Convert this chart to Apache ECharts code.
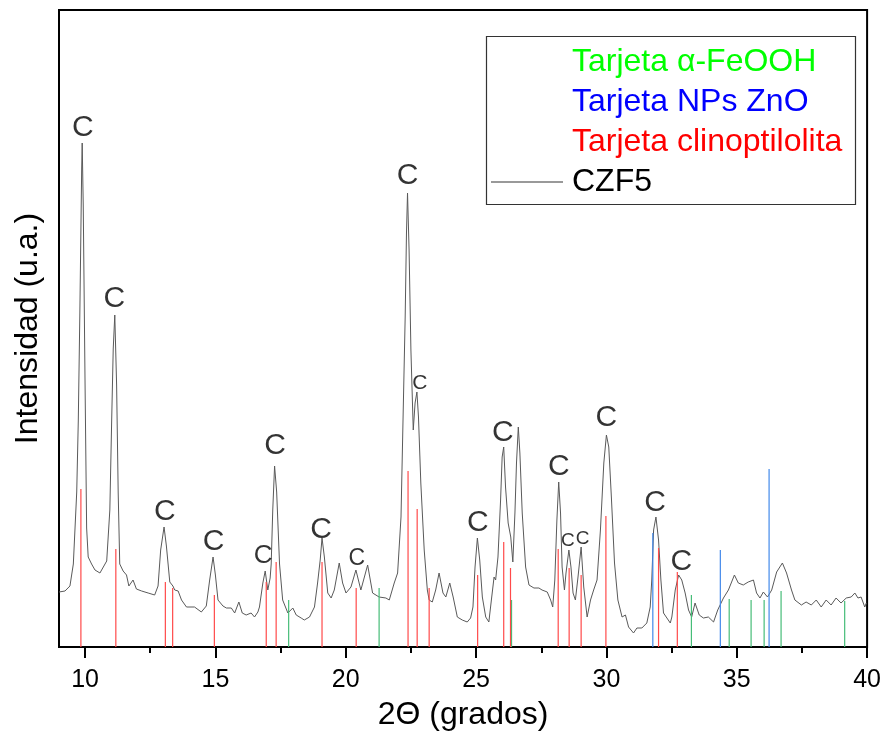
<!DOCTYPE html>
<html>
<head>
<meta charset="utf-8">
<title>DRX CZF5</title>
<script src="https://cdn.jsdelivr.net/npm/echarts@6/dist/echarts.min.js"></script>
<style>
  html, body { margin: 0; padding: 0; background: #fff; }
  #chart { width: 884px; height: 737px; }
</style>
</head>
<body>
<div id="chart"></div>
<script>
// Difractograma de la muestra CZF5: [2θ (grados), intensidad (u.a.)]
const czf5 = [
  [9.00,55],[9.23,56],[9.42,61],[9.55,83],[9.68,155],[9.74,226],[9.80,334],[9.87,478],[9.89,504],[9.93,442],
  [10.00,262],[10.06,119],[10.12,90],[10.25,83],[10.38,77],[10.57,74],[10.63,72],[10.83,86],[10.95,137],[11.02,226],
  [11.08,298],[11.14,332],[11.21,262],[11.27,155],[11.33,83],[11.46,76],[11.59,72],[11.68,61],[11.84,67],[11.97,58],
  [12.17,56],[12.42,54],[12.67,52],[12.80,61],[12.90,97],[13.03,120],[13.12,101],[13.25,65],[13.37,61],[13.44,57],
  [13.57,56],[13.70,47],[13.89,40],[14.20,40],[14.46,35],[14.65,41],[14.78,67],[14.91,90],[15.00,72],[15.10,47],
  [15.29,41],[15.42,39],[15.61,39],[15.74,34],[15.90,45],[16.03,34],[16.18,32],[16.37,34],[16.50,30],[16.63,35],
  [16.69,40],[16.82,64],[16.91,76],[17.01,57],[17.10,69],[17.14,83],[17.20,137],[17.27,181],[17.35,155],[17.46,83],
  [17.58,47],[17.65,47],[17.78,34],[17.97,39],[18.10,32],[18.29,29],[18.41,27],[18.61,30],[18.80,40],[18.92,64],
  [19.02,87],[19.09,109],[19.18,90],[19.31,54],[19.44,49],[19.56,57],[19.75,84],[19.88,64],[20.01,54],[20.20,60],
  [20.39,77],[20.58,57],[20.84,82],[21.03,54],[21.28,50],[21.54,49],[21.67,47],[21.86,64],[21.99,74],[22.12,130],
  [22.20,230],[22.28,330],[22.33,414],[22.37,454],[22.43,397],[22.50,297],[22.59,217],[22.66,244],[22.73,255],[22.79,230],
  [22.88,164],[23.01,97],[23.13,57],[23.20,47],[23.32,45],[23.45,57],[23.58,74],[23.73,54],[23.84,50],[23.99,64],
  [24.12,50],[24.28,30],[24.47,27],[24.66,25],[24.79,29],[24.88,40],[24.96,80],[25.05,109],[25.14,87],[25.24,50],
  [25.37,30],[25.49,25],[25.60,50],[25.69,70],[25.75,67],[25.84,90],[25.94,147],[26.00,190],[26.06,200],[26.13,160],
  [26.23,124],[26.33,110],[26.41,85],[26.49,134],[26.55,184],[26.62,220],[26.68,194],[26.77,134],[26.90,80],[27.03,62],
  [27.22,59],[27.41,59],[27.53,57],[27.73,55],[27.86,47],[27.94,40],[28.02,67],[28.10,127],[28.17,165],[28.24,134],
  [28.30,80],[28.39,57],[28.45,74],[28.56,97],[28.64,80],[28.72,54],[28.81,47],[28.91,70],[29.03,100],[29.13,60],
  [29.26,30],[29.39,47],[29.51,57],[29.64,67],[29.77,117],[29.90,184],[30.00,212],[30.09,200],[30.19,150],[30.31,84],
  [30.44,47],[30.60,30],[30.73,32],[30.85,20],[31.04,14],[31.17,19],[31.36,19],[31.55,24],[31.68,40],[31.74,67],
  [31.81,117],[31.90,130],[32.00,107],[32.09,67],[32.19,34],[32.32,29],[32.45,24],[32.51,30],[32.64,57],[32.77,72],
  [32.89,67],[33.02,54],[33.15,37],[33.27,30],[33.40,44],[33.56,32],[33.72,29],[33.91,30],[34.11,25],[34.27,37],
  [34.49,49],[34.68,57],[34.91,72],[35.06,64],[35.25,62],[35.44,65],[35.64,67],[35.76,54],[35.89,49],[36.02,55],
  [36.18,50],[36.34,57],[36.53,75],[36.75,84],[36.91,74],[37.10,57],[37.23,47],[37.48,42],[37.66,45],[37.86,42],
  [38.05,47],[38.24,40],[38.43,47],[38.62,42],[38.81,49],[39.00,44],[39.20,49],[39.39,50],[39.53,54],[39.65,49],
  [39.77,50],[39.91,40],[39.97,44]
];

// Tarjetas de referencia: [2θ, intensidad relativa]
const cardFeOOH = [
  [17.81,47],[21.28,59],[26.36,47],[33.26,52],[34.71,48],[35.55,47],[36.05,47],[36.70,56],[39.14,46]
];
const cardZnO = [
  [31.78,114],[34.37,97],[36.24,178]
];
const cardClino = [
  [9.84,158],[11.18,98],[13.08,65],[13.36,59],[14.96,52],[16.95,65],[17.33,85],[19.09,85],[20.40,59],
  [22.39,176],[22.74,138],[23.20,59],[25.06,72],[26.06,105],[26.32,79],[28.15,98],[28.57,79],[29.03,72],
  [29.98,131],[32.00,99],[32.72,75]
];

// Picos asignados a clinoptilolita (posición de la etiqueta "C")
const peakLabelTheta = [9.91, 11.12, 13.06, 14.93, 16.83, 17.29, 19.05, 20.42, 22.37, 22.84, 25.07, 26.03, 28.17, 28.52, 29.09, 30.00, 31.87, 32.87];
const peakLabelInt   = [519, 348, 135, 105, 91, 201, 117, 88, 471, 264, 124, 214, 180, 106, 108, 229, 144, 85];

// Ejes
const xMin = 9, xMax = 40;
const xMajorTicks = [10, 15, 20, 25, 30, 35, 40];
const xMinorTicks = [12.5, 17.5, 22.5, 27.5, 32.5, 37.5];
const yMax = 637;

const seriesNames = {
  feooh: 'Tarjeta \u03b1-FeOOH',
  zno: 'Tarjeta NPs ZnO',
  clino: 'Tarjeta clinoptilolita',
  sample: 'CZF5'
};

// Estilo
const FONT = "'Liberation Sans', Arial, Helvetica, sans-serif";
const peakLabelFont = [30, 30, 30, 30, 26, 30, 30, 23, 30, 21, 30, 30, 30, 19, 19, 30, 30, 30];

function stickRenderer(color) {
  return function (params, api) {
    const x = api.value(0);
    const base = api.coord([x, 0]);
    const top = api.coord([x, api.value(1)]);
    return {
      type: 'line',
      shape: { x1: base[0], y1: base[1], x2: top[0], y2: top[1] },
      style: { stroke: color, lineWidth: 1.2 }
    };
  };
}

function stickSeries(name, data, color) {
  return {
    name: name,
    type: 'custom',
    data: data,
    encode: { x: 0, y: 1 },
    renderItem: stickRenderer(color),
    itemStyle: { color: color },
    silent: true,
    z: 3
  };
}

const peakLabels = peakLabelTheta.map((t, i) => ({
  value: [t, peakLabelInt[i]],
  label: { fontSize: peakLabelFont[i] }
}));

const chart = echarts.init(document.getElementById('chart'), null, { renderer: 'canvas' });

chart.setOption({
  animation: false,
  backgroundColor: '#fff',
  textStyle: { fontFamily: FONT },
  grid: {
    left: 59, right: 15, top: 10, bottom: 90,
    show: true, borderColor: '#000', borderWidth: 2, backgroundColor: 'transparent'
  },
  xAxis: [
    {
      type: 'value', min: xMin, max: xMax, position: 'bottom',
      name: '2\u0398 (grados)', nameLocation: 'middle', nameGap: 52,
      nameTextStyle: { fontSize: 32, color: '#000', fontFamily: FONT },
      axisLine: { show: true, lineStyle: { color: '#000', width: 2 } },
      axisTick: { show: true, customValues: xMajorTicks, length: 11, lineStyle: { color: '#000', width: 2 } },
      axisLabel: { show: true, customValues: xMajorTicks, fontSize: 25, color: '#000', margin: 21, fontFamily: FONT },
      splitLine: { show: false }
    },
    {
      type: 'value', min: xMin, max: xMax, position: 'bottom',
      axisLine: { show: false },
      axisTick: { show: true, customValues: xMinorTicks, length: 6, lineStyle: { color: '#000', width: 2 } },
      axisLabel: { show: false },
      splitLine: { show: false }
    }
  ],
  yAxis: {
    type: 'value', min: 0, max: yMax,
    name: 'Intensidad (u.a.)', nameLocation: 'middle', nameGap: 15,
    nameTextStyle: { fontSize: 32, color: '#000', fontFamily: FONT },
    axisLine: { show: true, lineStyle: { color: '#000', width: 2 } },
    axisTick: { show: false },
    axisLabel: { show: false },
    splitLine: { show: false }
  },
  graphic: [
    {
      type: 'rect', z: 3,
      shape: { x: 486.5, y: 36.5, width: 369, height: 168 },
      style: { fill: '#fff', stroke: '#333', lineWidth: 1.2 }
    }
  ],
  legend: {
    orient: 'vertical',
    left: 490, top: 46,
    padding: 0,
    itemWidth: 72, itemHeight: 14, itemGap: 8,
    selectedMode: false,
    z: 5,
    textStyle: { fontSize: 32, fontFamily: FONT, padding: [0, 0, 0, 4] },
    data: [
      { name: seriesNames.feooh, icon: 'none', textStyle: { color: '#00ff00' } },
      { name: seriesNames.zno, icon: 'none', textStyle: { color: '#0000ff' } },
      { name: seriesNames.clino, icon: 'none', textStyle: { color: '#ff0000' } },
      {
        name: seriesNames.sample,
        textStyle: { color: '#000' },
        lineStyle: { color: '#999', width: 2 },
        itemStyle: { color: 'rgba(0,0,0,0)', borderWidth: 0, opacity: 0 }
      }
    ]
  },
  series: [
    {
      name: seriesNames.sample,
      type: 'line',
      data: czf5,
      symbol: 'none',
      smooth: false,
      lineStyle: { color: '#5a5a5a', width: 1 },
      itemStyle: { color: '#999' },
      silent: true,
      z: 2
    },
    stickSeries(seriesNames.feooh, cardFeOOH, '#46bd78'),
    stickSeries(seriesNames.zno, cardZnO, '#4289ea'),
    stickSeries(seriesNames.clino, cardClino, '#ff4a4a'),
    {
      name: 'picos C',
      type: 'scatter',
      data: peakLabels,
      symbolSize: 1,
      itemStyle: { color: 'rgba(0,0,0,0)' },
      silent: true,
      z: 4,
      label: {
        show: true, position: 'inside', formatter: 'C',
        color: '#000', fontFamily: FONT, fontSize: 30
      }
    }
  ]
});
</script>
</body>
</html>
